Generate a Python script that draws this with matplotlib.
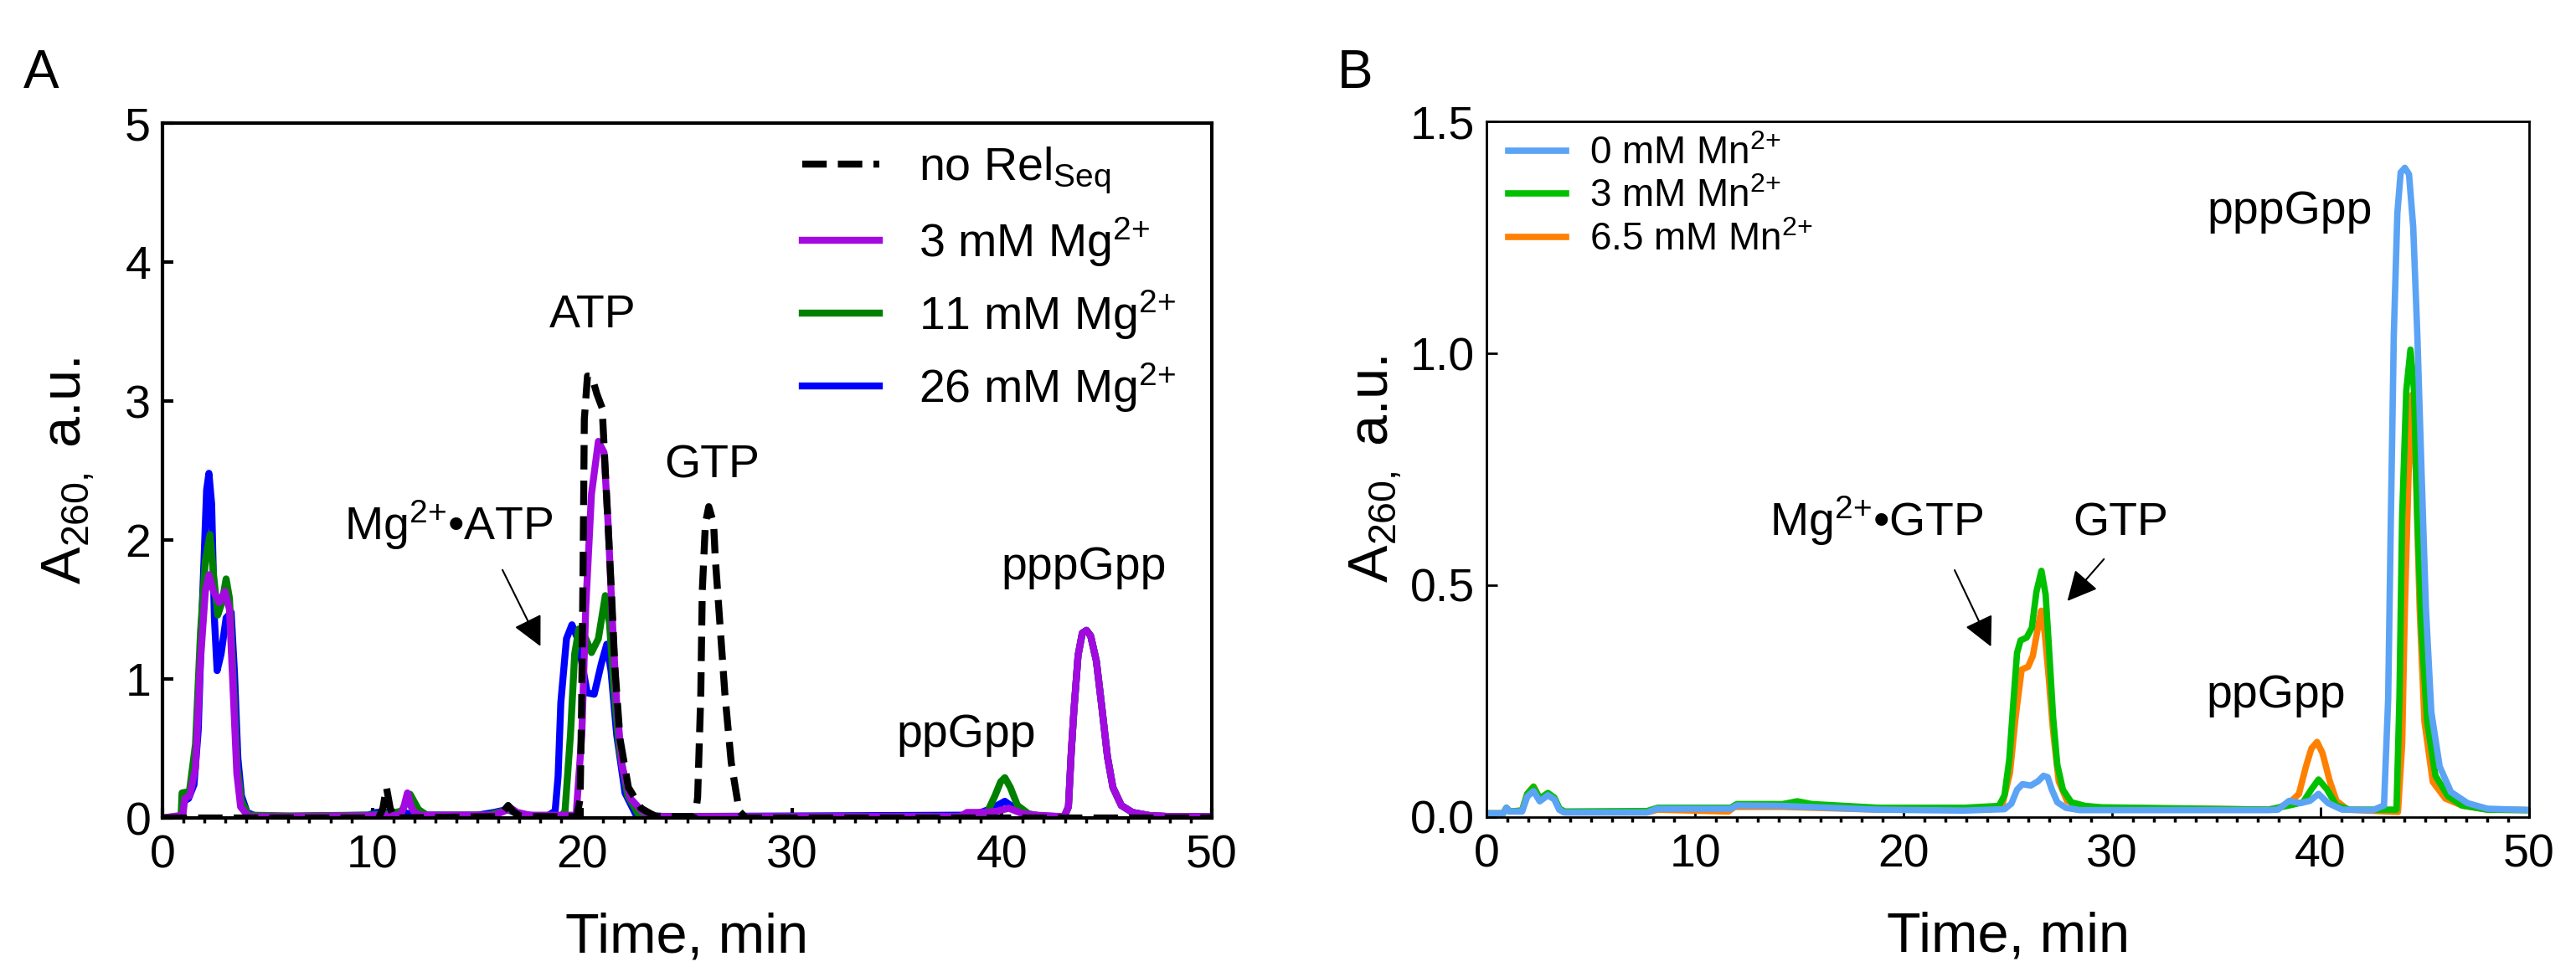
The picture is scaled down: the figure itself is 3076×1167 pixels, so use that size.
import matplotlib
matplotlib.use("Agg")
import matplotlib.pyplot as plt
from matplotlib.ticker import MultipleLocator, FormatStrFormatter

plt.rcParams['font.family'] = ['Liberation Sans', 'DejaVu Sans']
plt.rcParams['mathtext.fontset'] = 'custom'
plt.rcParams['mathtext.rm'] = 'Liberation Sans'
plt.rcParams['mathtext.it'] = 'Liberation Sans:italic'
plt.rcParams['mathtext.bf'] = 'Liberation Sans:bold'

# ---------------- Panel A data (time, min / A260) ----------------
a_none_t = [0, 10.3, 10.5, 10.67, 10.85, 11.05, 15.9, 16.2, 16.47, 16.75, 17.1,
            19.75, 19.9, 19.97, 20.04, 20.1, 20.25, 20.45, 20.7, 20.95, 21.2, 21.4,
            21.55, 21.8, 22.2, 22.8, 23.5, 25.3, 25.42, 25.5, 25.65, 25.72, 25.87,
            26.03, 26.26, 26.34, 26.57, 26.8, 27.1, 27.48, 27.8, 50]
a_none_v = [0, 0, 0.07, 0.22, 0.07, 0, 0.01, 0.04, 0.09, 0.04, 0.01,
            0.01, 0.14, 0.8, 1.8, 2.87, 3.18, 3.18, 3.05, 2.95, 2.2, 1.6,
            1.1, 0.57, 0.22, 0.07, 0.01, 0.01, 0.05, 0.15, 0.89, 1.63, 2.12,
            2.24, 2.12, 1.87, 1.38, 0.89, 0.4, 0.05, 0, 0]

a_ppp_t = [42.97, 43.17, 43.3, 43.43, 43.63, 43.83, 44.03, 44.23, 44.5, 44.76,
           45.03, 45.29, 45.69, 46.22, 47.02, 48.0, 50]
a_ppp_v = [0.01, 0.08, 0.46, 0.77, 1.17, 1.33, 1.35, 1.31, 1.13, 0.8,
           0.44, 0.22, 0.09, 0.04, 0.018, 0.01, 0.01]

a_mg3_t = [0, 0.97, 1.06, 1.3, 1.57, 1.81, 2.04, 2.21, 2.43, 2.7, 2.97, 3.19, 3.36,
           3.54, 3.72, 4.1, 6.0, 9.8, 11.34, 11.5, 11.67, 11.85, 12.0, 12.3, 15.8,
           16.3, 16.6, 16.9, 17.5, 19.71, 19.98, 20.17, 20.44, 20.77, 21.04, 21.24,
           21.44, 21.64, 21.9, 22.3, 22.84, 23.6, 38.0, 38.34, 39.27, 39.8, 40.33,
           41.0, 41.67, 42.8] + a_ppp_t
a_mg3_v = [0, 0.02, 0.14, 0.16, 0.36, 1.14, 1.63, 1.75, 1.63, 1.55, 1.63, 1.5, 0.93,
           0.32, 0.08, 0.01, 0.01, 0.015, 0.02, 0.08, 0.18, 0.08, 0.04, 0.02, 0.02,
           0.05, 0.07, 0.04, 0.02, 0.02, 0.6, 1.52, 2.33, 2.71, 2.63, 2.1,
           1.41, 0.83, 0.37, 0.14, 0.05, 0.01, 0.01, 0.04, 0.04, 0.05, 0.07,
           0.03, 0.02, 0.01] + a_ppp_v

a_mg11_t = [0, 0.88, 0.93, 1.28, 1.57, 1.81, 2.04, 2.26, 2.43, 2.63, 2.83, 3.03, 3.19,
            3.36, 3.56, 3.76, 4.1, 6.0, 9.8, 10.8, 11.4, 11.8, 12.2, 12.6, 15.5, 16.5,
            17.2, 19.0, 19.18, 19.44, 19.64, 19.84, 20.17, 20.44, 20.77, 21.1, 21.3,
            21.5, 21.77, 22.17, 22.7, 24.0, 38.0, 38.6, 39.27, 39.67, 39.94, 40.14,
            40.4, 40.74, 41.27, 42.0, 42.8] + a_ppp_t
a_mg11_v = [0, 0, 0.18, 0.19, 0.53, 1.34, 1.85, 2.04, 1.75, 1.46, 1.55, 1.72, 1.58,
            1.03, 0.36, 0.12, 0.02, 0.015, 0.02, 0.03, 0.05, 0.17, 0.06, 0.02, 0.02, 0.06,
            0.02, 0.01, 0.05, 0.6, 1.18, 1.36, 1.29, 1.19, 1.29, 1.6, 1.4,
            0.95, 0.49, 0.16, 0.02, 0.01, 0.01, 0.02, 0.03, 0.16, 0.26, 0.29,
            0.22, 0.09, 0.03, 0.01, 0.01] + a_ppp_v

a_mg26_t = [0, 0.9, 1.01, 1.24, 1.5, 1.7, 1.9, 2.1, 2.21, 2.34, 2.47, 2.6, 2.79, 3.03,
            3.27, 3.43, 3.59, 3.76, 4.03, 4.49, 6.0, 9.8, 10.2, 10.6, 11.0, 11.4, 11.8,
            12.3, 15.0, 15.8, 16.4, 16.8, 17.4, 18.3, 18.71, 18.85, 18.98, 19.25, 19.51,
            19.78, 20.05, 20.24, 20.57, 20.91, 21.17, 21.37, 21.64, 22.04, 22.57, 24.0,
            38.3, 39.0, 39.54, 40.14, 40.6, 41.14, 41.7, 42.8] + a_ppp_t
a_mg26_v = [0, 0, 0.12, 0.14, 0.24, 0.63, 1.55, 2.36, 2.48, 2.26, 1.44, 1.06, 1.18, 1.44,
            1.48, 1.04, 0.43, 0.16, 0.04, 0.01, 0.01, 0.02, 0.04, 0.04, 0.04, 0.04, 0.03,
            0.02, 0.02, 0.04, 0.06, 0.04, 0.02, 0.01, 0.05, 0.3, 0.83, 1.29, 1.39,
            1.29, 1.06, 0.9, 0.89, 1.11, 1.25, 1.06, 0.6, 0.18, 0.02, 0.01,
            0.02, 0.04, 0.07, 0.12, 0.07, 0.03, 0.015, 0.01] + a_ppp_v

# ---------------- Panel B data ----------------
b_mn0_t = [0, 0.8, 0.95, 1.1, 1.7, 1.95, 2.25, 2.55, 2.94, 3.25, 3.48, 3.71, 7.7, 8.17,
           11.7, 12.0, 14.2, 16.5, 18.8, 22.9, 24.84, 25.17, 25.44, 25.7, 26.1, 26.44,
           26.71, 26.91, 27.11, 27.37, 27.78, 28.44, 37.5, 37.95, 38.49, 39.02, 39.49,
           39.9, 40.36, 41.03, 42.5, 43.04, 43.24, 43.37, 43.51, 43.68, 43.84, 44.04,
           44.24, 44.44, 44.64, 44.84, 45.05, 45.31, 45.71, 46.25, 47.05, 48.0, 50]
b_mn0_v = [0.008, 0.008, 0.02, 0.012, 0.012, 0.044, 0.056, 0.034, 0.047, 0.038, 0.016,
           0.01, 0.01, 0.018, 0.018, 0.025, 0.024, 0.02, 0.016, 0.014, 0.017, 0.029,
           0.059, 0.071, 0.068, 0.077, 0.089, 0.086, 0.059, 0.032, 0.02, 0.015, 0.015,
           0.016, 0.035, 0.03, 0.035, 0.05, 0.03, 0.016, 0.015, 0.025, 0.255, 0.647,
           1.038, 1.302, 1.39, 1.40, 1.386, 1.273, 1.038, 0.744, 0.45, 0.226, 0.109,
           0.054, 0.03, 0.018, 0.015]

b_mn3_t = [0, 0.8, 0.95, 1.1, 1.7, 1.95, 2.25, 2.55, 2.94, 3.25, 3.5, 3.75, 7.7, 8.2,
           11.7, 12.0, 14.2, 14.9, 15.6, 18.8, 22.9, 24.57, 24.84, 25.07, 25.26, 25.44,
           25.61, 25.9, 26.15, 26.37, 26.61, 26.81, 26.97, 27.17, 27.37, 27.64, 28.04,
           28.71, 29.5, 37.5, 38.49, 39.16, 39.56, 39.9, 40.3, 40.76, 41.4, 43.3, 43.64,
           43.78, 43.91, 44.11, 44.31, 44.48, 44.64, 44.84, 45.11, 45.51, 46.11, 46.78,
           48.0, 50]
b_mn3_v = [0.008, 0.008, 0.02, 0.012, 0.014, 0.05, 0.065, 0.04, 0.052, 0.042, 0.018,
           0.012, 0.013, 0.02, 0.02, 0.028, 0.028, 0.034, 0.028, 0.02, 0.02, 0.024,
           0.047, 0.125, 0.245, 0.354, 0.381, 0.387, 0.408, 0.486, 0.531, 0.48, 0.366,
           0.215, 0.113, 0.059, 0.032, 0.024, 0.021, 0.016, 0.025, 0.032, 0.06, 0.081,
           0.06, 0.025, 0.016, 0.016, 0.016, 0.255, 0.647, 0.92, 1.008, 0.92, 0.647,
           0.402, 0.206, 0.089, 0.045, 0.025, 0.016, 0.015]

b_mn65_t = [0, 0.8, 0.95, 1.1, 1.7, 1.95, 2.25, 2.55, 2.94, 3.25, 3.5, 3.75, 7.7, 8.2,
            11.6, 11.9, 14.2, 18.8, 22.9, 24.7, 25.1, 25.37, 25.66, 25.97, 26.2, 26.44,
            26.6, 26.77, 26.95, 27.17, 27.44, 27.84, 28.44, 29.5, 37.5, 37.95, 38.49,
            38.96, 39.29, 39.56, 39.83, 40.09, 40.43, 40.76, 41.3, 43.71, 43.91, 44.04,
            44.22, 44.4, 44.57, 44.75, 44.98, 45.38, 45.98, 46.78, 48.0, 50]
b_mn65_v = [0.008, 0.008, 0.02, 0.012, 0.014, 0.05, 0.066, 0.04, 0.05, 0.04, 0.016,
            0.01, 0.01, 0.016, 0.012, 0.022, 0.022, 0.016, 0.016, 0.02, 0.095, 0.215,
            0.318, 0.324, 0.348, 0.408, 0.445, 0.396, 0.306, 0.185, 0.077, 0.035, 0.024,
            0.02, 0.016, 0.02, 0.03, 0.05, 0.108, 0.148, 0.162, 0.138, 0.079, 0.035,
            0.016, 0.011, 0.157, 0.45, 0.744, 0.911, 0.744, 0.45, 0.206, 0.076, 0.04,
            0.025, 0.016, 0.015]

FS_TICK = 40
FS_LAB = 48
FS_TXT = 40
SUP = r'$^{2{+}}$'


def style_axes(ax, spine_w):
    for s in ax.spines.values():
        s.set_linewidth(spine_w)
    ax.set_xlim(0, 50)
    ax.xaxis.set_major_locator(MultipleLocator(10))
    ax.xaxis.set_minor_locator(MultipleLocator(1))
    ax.tick_params(axis='both', which='major', direction='in', length=9,
                   width=spine_w, labelsize=FS_TICK, top=False, right=False)
    ax.tick_params(axis='x', which='major', pad=14)
    ax.tick_params(axis='y', which='major', pad=10)
    ax.tick_params(axis='x', which='minor', direction='out', length=4, width=2.5)
    ax.set_xlabel('Time, min', fontsize=FS_LAB)
    ax.xaxis.set_label_coords(0.5, -0.135)


fig = plt.figure(figsize=(30.76, 11.67), dpi=100)

# ---------------- Panel A ----------------
axA = fig.add_axes([0.0631, 0.1628, 0.4073, 0.7112])
lw = 6
h26, = axA.plot(a_mg26_t, a_mg26_v, color='#0000FF', lw=lw, label='26 mM Mg' + SUP)
h11, = axA.plot(a_mg11_t, a_mg11_v, color='#008000', lw=lw, label='11 mM Mg' + SUP)
h3, = axA.plot(a_mg3_t, a_mg3_v, color='#A30AE0', lw=lw, label='3 mM Mg' + SUP)
hn, = axA.plot(a_none_t, a_none_v, color='black', lw=lw, ls=(0, (3.5, 1.6)),
               label=r'no Rel$_{\mathrm{Seq}}$')
style_axes(axA, 3)
axA.set_ylim(0, 5)
axA.yaxis.set_major_locator(MultipleLocator(1))
axA.set_ylabel(r'A$_{260,}$ a.u.', fontsize=FS_LAB)
axA.yaxis.set_label_coords(-0.063, 0.5)
axA.legend(handles=[hn, h3, h11, h26], loc='upper left', bbox_to_anchor=(0.61, 0.968),
           frameon=False, fontsize=FS_TXT, handlelength=1.65, handletextpad=0.85,
           labelspacing=0.42, borderpad=0, borderaxespad=0)

axA.text(20.5, 3.53, 'ATP', fontsize=FS_TXT, ha='center', va='baseline')
axA.text(26.2, 2.45, 'GTP', fontsize=FS_TXT, ha='center', va='baseline')
axA.text(38.3, 0.51, 'ppGpp', fontsize=FS_TXT, ha='center', va='baseline')
axA.text(43.9, 1.72, 'pppGpp', fontsize=FS_TXT, ha='center', va='baseline')
axA.text(13.64, 2.0, 'Mg' + SUP + '•ATP', fontsize=FS_TXT, ha='center', va='baseline')
axA.annotate('', xy=(18.06, 1.22), xytext=(16.15, 1.80),
             arrowprops=dict(arrowstyle='-|>', lw=1.5, color='black', mutation_scale=55))
fig.text(0.009, 0.925, 'A', fontsize=46, ha='left', va='center')

# ---------------- Panel B ----------------
axB = fig.add_axes([0.5771, 0.1637, 0.4047, 0.712])
lwb = 5.5
o65, = axB.plot(b_mn65_t, b_mn65_v, color='#FF8000', lw=lwb, label='6.5 mM Mn' + SUP)
o3, = axB.plot(b_mn3_t, b_mn3_v, color='#00C000', lw=lwb, label='3 mM Mn' + SUP)
o0, = axB.plot(b_mn0_t, b_mn0_v, color='#5BA3F5', lw=lwb, label='0 mM Mn' + SUP)
style_axes(axB, 2)
axB.set_ylim(0, 1.5)
axB.yaxis.set_major_locator(MultipleLocator(0.5))
axB.yaxis.set_major_formatter(FormatStrFormatter('%.1f'))
axB.set_ylabel(r'A$_{260,}$ a.u.', fontsize=FS_LAB)
axB.yaxis.set_label_coords(-0.08, 0.5)
axB.legend(handles=[o0, o3, o65], loc='upper left', bbox_to_anchor=(0.021, 0.98),
           frameon=False, fontsize=33, handlelength=1.5, handletextpad=0.6,
           labelspacing=0.17, borderpad=0, borderaxespad=0)

axB.text(38.53, 1.28, 'pppGpp', fontsize=FS_TXT, ha='center', va='baseline')
axB.text(37.87, 0.236, 'ppGpp', fontsize=FS_TXT, ha='center', va='baseline')
axB.text(30.4, 0.607, 'GTP', fontsize=FS_TXT, ha='center', va='baseline')
axB.text(18.7, 0.607, 'Mg' + SUP + '•GTP', fontsize=FS_TXT, ha='center', va='baseline')
axB.annotate('', xy=(24.24, 0.363), xytext=(22.4, 0.537),
             arrowprops=dict(arrowstyle='-|>', lw=1.5, color='black', mutation_scale=55))
axB.annotate('', xy=(27.78, 0.462), xytext=(29.68, 0.56),
             arrowprops=dict(arrowstyle='-|>', lw=1.5, color='black', mutation_scale=55))
fig.text(0.519, 0.925, 'B', fontsize=46, ha='left', va='center')

fig.savefig('out.png', dpi=100)
